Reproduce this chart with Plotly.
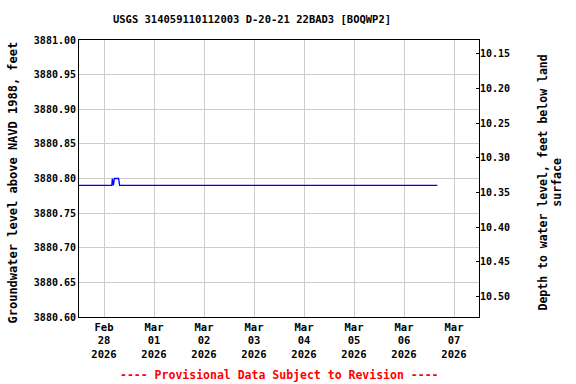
import plotly.graph_objects as go

# Data
times = ["2026-02-27 12:00", "2026-02-28 03:45", "2026-02-28 04:00", "2026-02-28 04:30",
         "2026-02-28 05:00", "2026-02-28 07:00", "2026-02-28 07:30", "2026-03-06 16:00"]
levels = [3880.79, 3880.79, 3880.80, 3880.79, 3880.80, 3880.80, 3880.79, 3880.79]
datum = 3891.13
depths = [round(datum - v, 2) for v in levels]

tick_dates = ["2026-02-28", "2026-03-01", "2026-03-02", "2026-03-03",
              "2026-03-04", "2026-03-05", "2026-03-06", "2026-03-07"]
tick_text = ["Feb<br>28<br>2026", "Mar<br>01<br>2026", "Mar<br>02<br>2026", "Mar<br>03<br>2026",
             "Mar<br>04<br>2026", "Mar<br>05<br>2026", "Mar<br>06<br>2026", "Mar<br>07<br>2026"]
left_ticks = [3880.60, 3880.65, 3880.70, 3880.75, 3880.80, 3880.85, 3880.90, 3880.95, 3881.00]
right_ticks = [10.15, 10.20, 10.25, 10.30, 10.35, 10.40, 10.45, 10.50]

FONT = "DejaVu Sans Mono"

fig = go.Figure()
fig.add_trace(go.Scatter(x=times, y=depths, mode="markers", yaxis="y2",
                         marker=dict(opacity=0, size=1), hoverinfo="skip",
                         showlegend=False))
fig.add_trace(go.Scatter(x=times, y=levels, mode="lines",
                         line=dict(color="#0000ff", width=1.3), hoverinfo="skip",
                         showlegend=False))

fig.update_layout(
    width=576, height=384,
    margin=dict(l=79, r=97, t=40, b=67),
    paper_bgcolor="white", plot_bgcolor="white",
    font=dict(family=FONT, size=10, color="black"),
    title=dict(text="<b>USGS 314059110112003 D-20-21 22BAD3 [BOQWP2]</b>",
               x=252/576, xanchor="center", y=1 - 19/384, yanchor="middle",
               font=dict(family=FONT, size=10.5, color="black")),
    xaxis=dict(type="date", range=["2026-02-27 12:00", "2026-03-07 12:00"],
               tickvals=tick_dates, ticktext=["<b>%s</b>" % t for t in tick_text],
               showgrid=True, gridcolor="#cccccc", gridwidth=1,
               showline=True, linecolor="black", linewidth=1, mirror=True,
               ticks="", tickfont=dict(family=FONT, size=10.5), zeroline=False),
    yaxis=dict(range=[3880.60, 3881.00], tickvals=left_ticks,
               ticktext=["<b>%.2f</b>" % v for v in left_ticks],
               showgrid=True, gridcolor="#cccccc", gridwidth=1,
               showline=True, linecolor="black", linewidth=1, mirror=True,
               ticks="", tickfont=dict(family=FONT, size=10), zeroline=False),
    yaxis2=dict(overlaying="y", side="right", range=[10.5298, 10.1298],
                tickvals=right_ticks, ticktext=["<b>%.2f</b>" % v for v in right_ticks],
                showgrid=False, ticks="inside", ticklen=3, tickcolor="black",
                tickfont=dict(family=FONT, size=10), zeroline=False, showline=False),
    annotations=[
        dict(text="<b>Groundwater level above NAVD 1988, feet</b>", textangle=-90,
             xref="paper", yref="paper", x=(12 - 79) / 400, y=(317 - 182.5) / 277,
             xanchor="center", yanchor="middle", showarrow=False,
             font=dict(family=FONT, size=12, color="black")),
        dict(text="<b>Depth to water level, feet below land<br>surface</b>", textangle=-90,
             xref="paper", yref="paper", x=(550 - 79) / 400, y=(317 - 182.5) / 277,
             xanchor="center", yanchor="middle", showarrow=False,
             font=dict(family=FONT, size=11.5, color="black")),
        dict(text="<b>---- Provisional Data Subject to Revision ----</b>",
             xref="paper", yref="paper", x=0.5, y=(317 - 375) / 277,
             xanchor="center", yanchor="middle", showarrow=False,
             font=dict(family=FONT, size=11.5, color="#ff0000")),
    ],
)

post = "document.body.style.margin='0px';"
fig.write_html("out.html", config={"displayModeBar": False}, post_script=post)
